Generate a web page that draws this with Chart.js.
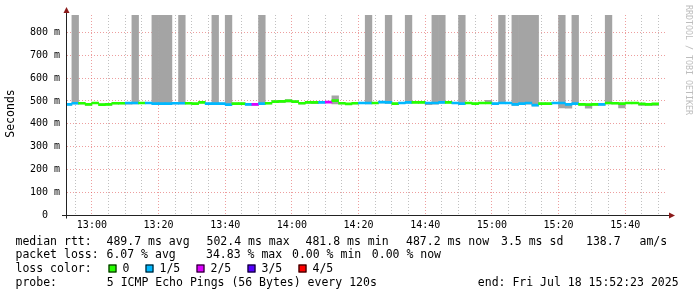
<!DOCTYPE html>
<html><head><meta charset="utf-8">
<script src="https://cdn.jsdelivr.net/npm/chart.js@4"></script>
<style>html,body{margin:0;padding:0;background:#fff}canvas{display:block}</style>
</head><body>
<canvas id="c" width="697" height="297"></canvas>
<script>
// ---------------- data ----------------
const startTime = '12:52:23';
const endTime = '15:52:23';
const times = [
 '12:52','12:54','12:56','12:58','13:00','13:02','13:04','13:06','13:08','13:10',
 '13:12','13:14','13:16','13:18','13:20','13:22','13:24','13:26','13:28','13:30',
 '13:32','13:34','13:36','13:38','13:40','13:42','13:44','13:46','13:48','13:50',
 '13:52','13:54','13:56','13:58','14:00','14:02','14:04','14:06','14:08','14:10',
 '14:12','14:14','14:16','14:18','14:20','14:22','14:24','14:26','14:28','14:30',
 '14:32','14:34','14:36','14:38','14:40','14:42','14:44','14:46','14:48','14:50',
 '14:52','14:54','14:56','14:58','15:00','15:02','15:04','15:06','15:08','15:10',
 '15:12','15:14','15:16','15:18','15:20','15:22','15:24','15:26','15:28','15:30',
 '15:32','15:34','15:36','15:38','15:40','15:42','15:44','15:46','15:48'];
const medianMs = [
 485,490,490,485,491,484,485,490,490,491,
 491,491,491,488,488,488,490,490,490,488,
 494,488,488,488,484,488,488,485,485,488,
 490,497,498,500,497,490,494,494,494,495,
 501,490,487,490,491,491,491,495,494,488,
 491,494,494,494,491,491,494,494,491,488,
 491,488,491,491,488,491,491,485,488,491,
 482,488,488,491,491,485,488,485,484,485,
 485,491,490,488,491,491,487,485,487];
const lostPings = [
 1,1,0,0,0,0,0,0,0,1,
 1,0,1,1,1,1,1,1,0,0,
 0,1,1,1,1,0,0,1,2,1,
 0,0,0,0,0,0,0,0,1,2,
 0,0,0,0,1,1,0,1,1,0,
 1,1,0,0,1,1,1,0,1,1,
 0,0,0,0,1,1,1,1,1,1,
 1,0,0,1,1,1,1,0,0,0,
 1,0,0,0,0,0,0,0,0];
const smokeMaxMs = [
 488,900,493,488,494,487,488,493,493,494,
 900,494,494,900,900,900,493,900,493,491,
 497,491,900,491,900,491,491,488,488,900,
 493,500,503,506,500,493,497,497,497,498,
 522,493,490,493,494,900,494,498,900,491,
 494,900,497,497,494,900,900,497,494,900,
 494,491,494,503,491,900,494,900,900,900,
 900,491,491,494,900,488,900,488,487,488,
 488,900,493,491,494,494,490,488,490];
const smokeMinMs = [
 482,487,487,482,488,481,482,487,487,486,
 487,488,488,485,485,485,487,487,487,485,
 491,485,485,485,481,485,485,482,482,485,
 487,493,494,496,493,487,490,488,491,492,
 487,487,484,487,488,487,488,491,489,485,
 488,490,491,491,484,486,490,491,488,485,
 488,485,488,488,485,488,488,480,485,486,
 478,485,485,488,470,468,485,482,468,482,
 482,487,487,470,488,488,480,482,480];
const xTickLabels = ['13:00','13:20','13:40','14:00','14:20','14:40','15:00','15:20','15:40'];
const yTickValues = [0,100,200,300,400,500,600,700,800];
const lossLabels = ['0','1/5','2/5','3/5','4/5'];
const statsRtt = ['median rtt:','489.7 ms avg','502.4 ms max','481.8 ms min','487.2 ms now','3.5 ms sd','138.7','am/s'];
const statsLoss = ['packet loss:','6.07 % avg','34.83 % max','0.00 % min','0.00 % now'];
const probeText = ['probe:','5 ICMP Echo Pings (56 Bytes) every 120s','end: Fri Jul 18 15:52:23 2025'];

// ---------------- styles ----------------
const LOSS_COLORS = ['#26ff00','#00b8ff','#dd00ff','#5500ff','#ff0000'];
const SMOKE = '#a4a4a4';
const MAJOR = 'rgba(222,79,79,0.55)';
const MINOR = 'rgba(150,150,150,0.6)';
const LINE_HALF = 4.4;
const MONO = '"DejaVu Sans Mono", monospace';

function toMin(s){ const p=s.split(':').map(Number); return (p[0]-12)*60+p[1]+(p[2]||0)/60; }
function fmt(v){ const h=12+Math.floor(v/60), m=Math.round(v%60); return h+':'+String(m).padStart(2,'0'); }
const xMin = toMin(startTime), xMax = toMin(endTime);
const yMax = 875;

const deco = {
  id:'deco',
  beforeDraw(c){ const g=c.ctx; g.save(); g.fillStyle='#fff'; g.fillRect(0,0,c.width,c.height); g.restore(); },
  afterDraw(c){
    const g=c.ctx;
    g.save();
    g.strokeStyle='#222'; g.lineWidth=1;
    g.beginPath(); g.moveTo(66.5,11); g.lineTo(66.5,218.5); g.stroke();
    g.beginPath(); g.moveTo(62,215.5); g.lineTo(670,215.5); g.stroke();
    g.fillStyle='#8b1a1a';
    g.beginPath(); g.moveTo(63.5,13); g.lineTo(69.5,13); g.lineTo(66.5,7); g.closePath(); g.fill();
    g.beginPath(); g.moveTo(669,212.5); g.lineTo(669,218.5); g.lineTo(675,215.5); g.closePath(); g.fill();
    g.fillStyle='#000'; g.font='11.5px '+MONO; g.textBaseline='middle';
    g.save(); g.translate(11,113.5); g.rotate(-Math.PI/2); g.textAlign='center'; g.fillText('Seconds',0,0); g.restore();
    g.save(); g.translate(688,5); g.rotate(Math.PI/2); g.textAlign='left'; g.fillStyle='#bdbdbd'; g.font='8.3px '+MONO; g.fillText('RRDTOOL / TOBI OETIKER',0,0); g.restore();
    g.textAlign='left'; g.fillStyle='#000'; g.font='11.5px '+MONO;
    const r1x=[15.5,106.5,206.5,305.5,406,501,586,639.5];
    statsRtt.forEach((t,i)=>g.fillText(t,r1x[i],241.7));
    const r2x=[15.5,106.5,206,292,371.8];
    statsLoss.forEach((t,i)=>g.fillText(t,r2x[i],255.4));
    g.fillText('loss color:',15.5,269.2);
    const bx=[108.5,145.5,196.5,247.5,298.5];
    lossLabels.forEach((t,i)=>{
      g.fillStyle=LOSS_COLORS[i]; g.fillRect(bx[i],264.5,8,8);
      g.strokeStyle='#000'; g.strokeRect(bx[i]+0.5,264.5+0.5,7,7);
      g.fillStyle='#000'; g.fillText(t,bx[i]+14,269.2);
    });
    const r4x=[15.5,106.8,477.8];
    probeText.forEach((t,i)=>g.fillText(t,r4x[i],282.9));
    g.restore();
  }
};

new Chart(document.getElementById('c'), {
  type:'bar',
  data:{ datasets:[
    { label:'median', order:0,
      data: times.map((t,i)=>({x:toMin(t)+1, y:[medianMs[i]-LINE_HALF, medianMs[i]+LINE_HALF]})),
      backgroundColor: lostPings.map(l=>LOSS_COLORS[l]) },
    { label:'smoke', order:1,
      data: times.map((t,i)=>({x:toMin(t)+1, y:[smokeMinMs[i], smokeMaxMs[i]]})),
      backgroundColor: SMOKE }
  ]},
  options:{
    responsive:false, animation:false, devicePixelRatio:1,
    layout:{padding:{top:15,right:30.5,left:0,bottom:0}},
    datasets:{bar:{grouped:false,barPercentage:1,categoryPercentage:1,borderWidth:0}},
    plugins:{legend:{display:false},tooltip:{enabled:false}},
    scales:{
      x:{ type:'linear', min:xMin, max:xMax, offset:false,
        afterFit(s){ s.height=81.5; },
        afterBuildTicks(s){ const t=[]; for(let v=Math.ceil(xMin/5)*5; v<=xMax; v+=5) t.push({value:v}); s.ticks=t; },
        grid:{ offset:false, drawTicks:false, lineWidth:1,
          color:(ctx)=> (ctx.tick && xTickLabels.includes(fmt(ctx.tick.value))) ? MAJOR : MINOR },
        border:{ display:true, color:'#222', dash:[1,2] },
        ticks:{ autoSkip:false, maxRotation:0, padding:3.5, color:'#000',
          font:{family:MONO,size:10},
          callback:(v)=> xTickLabels.includes(fmt(v)) ? fmt(v) : '' }
      },
      y:{ type:'linear', min:0, max:yMax,
        afterFit(s){ s.width=66.5; },
        afterBuildTicks(s){ const t=[]; for(let v=0; v<=yMax; v+=50) t.push({value:v}); s.ticks=t; },
        grid:{ drawTicks:false, lineWidth:1,
          color:(ctx)=> (ctx.tick && yTickValues.includes(ctx.tick.value)) ? MAJOR : MINOR },
        border:{ display:true, color:'#222', dash:[1,2] },
        ticks:{ padding:6.5, color:'#000', font:{family:MONO,size:10},
          callback:(v)=> yTickValues.includes(v) ? (v===0 ? '0  ' : v+' m') : '' }
      }
    }
  },
  plugins:[deco]
});
</script>
</body></html>
